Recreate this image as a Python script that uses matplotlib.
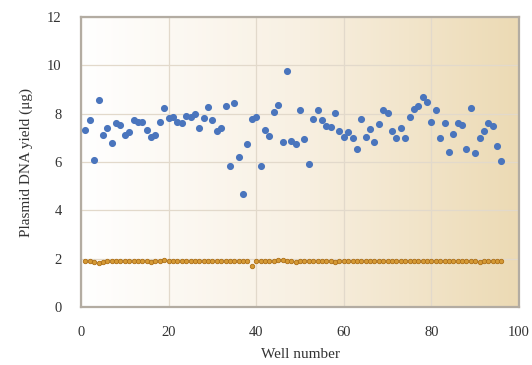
import numpy as np
import matplotlib
matplotlib.use('Agg')
import matplotlib.pyplot as plt
from matplotlib.colors import LinearSegmentedColormap

# plasmid yield per well (blue) and second series (orange)
wells = np.arange(1, 97)
yield_blue = [7.32, 7.72, 6.07, 8.56, 7.12, 7.39, 6.79, 7.61, 7.54, 7.13,
              7.24, 7.74, 7.67, 7.64, 7.34, 7.03, 7.12, 7.64, 8.25, 7.81,
              7.86, 7.67, 7.60, 7.89, 7.85, 7.97, 7.39, 7.81, 8.26, 7.72,
              7.29, 7.42, 8.32, 5.85, 8.45, 6.22, 4.66, 6.73, 7.77, 7.85,
              5.85, 7.34, 7.07, 8.08, 8.34, 6.81, 9.78, 6.85, 6.74, 8.15,
              6.95, 5.93, 7.78, 8.15, 7.72, 7.48, 7.46, 8.04, 7.28, 7.03,
              7.23, 6.99, 6.54, 7.79, 7.03, 7.35, 6.81, 7.56, 8.14, 8.04,
              7.29, 6.99, 7.42, 7.00, 7.87, 8.19, 8.30, 8.68, 8.47, 7.64,
              8.14, 6.99, 7.60, 6.43, 7.14, 7.60, 7.52, 6.52, 8.25, 6.36,
              6.98, 7.27, 7.60, 7.48, 6.67, 6.05]
yield_orange = [1.90, 1.90, 1.88, 1.84, 1.88, 1.90, 1.89, 1.90, 1.90, 1.90,
                1.91, 1.90, 1.92, 1.91, 1.90, 1.88, 1.91, 1.89, 1.96, 1.92,
                1.90, 1.91, 1.90, 1.89, 1.91, 1.92, 1.90, 1.90, 1.90, 1.91,
                1.90, 1.90, 1.91, 1.90, 1.90, 1.90, 1.90, 1.90, 1.70, 1.90,
                1.91, 1.90, 1.90, 1.89, 1.93, 1.95, 1.91, 1.90, 1.88, 1.90,
                1.90, 1.89, 1.91, 1.90, 1.90, 1.91, 1.89, 1.88, 1.90, 1.91,
                1.90, 1.90, 1.91, 1.90, 1.89, 1.92, 1.90, 1.91, 1.90, 1.91,
                1.89, 1.90, 1.91, 1.90, 1.92, 1.90, 1.89, 1.91, 1.90, 1.90,
                1.89, 1.90, 1.91, 1.92, 1.90, 1.89, 1.90, 1.91, 1.89, 1.90,
                1.88, 1.90, 1.89, 1.90, 1.91, 1.89]

xticks = [0, 20, 40, 60, 80, 100]
yticks = [0, 2, 4, 6, 8, 10, 12]

plt.rcParams['font.family'] = ['Liberation Serif', 'DejaVu Serif']

fig = plt.figure(figsize=(5.32, 3.65), dpi=100)
ax = fig.add_axes([0.1523, 0.1589, 0.8233, 0.7945])

# background gradient, white to tan
cmap = LinearSegmentedColormap.from_list('bg', ['#ffffff', '#f8f0e2', '#ecdab4'])
grad = np.linspace(0, 1, 256).reshape(1, -1)
ax.imshow(grad, extent=[0, 100, 0, 12], aspect='auto', cmap=cmap, zorder=0)

ax.grid(True, color='#e2d9cb', linewidth=0.9, zorder=1)

ax.plot(wells, yield_blue, 'o', color='#4a75bd', markersize=4.1, zorder=3)
ax.plot(wells, yield_orange, 'o', color='#d59a35', markeredgecolor='#ad6f16',
        markeredgewidth=0.6, markersize=3.2, zorder=3)

ax.set_xlim(0, 100)
ax.set_ylim(0, 12)
ax.set_xticks(xticks)
ax.set_yticks(yticks)
ax.tick_params(length=0, labelsize=10.5, labelcolor='#333333')
ax.tick_params(axis='x', pad=14)
ax.tick_params(axis='y', pad=14)

for s in ax.spines.values():
    s.set_color('#b3aca2')
    s.set_linewidth(1.6)

ax.set_xlabel('Well number', fontsize=11, color='#333333', labelpad=6)
ax.set_ylabel('Plasmid DNA yield (μg)', fontsize=11, color='#333333', labelpad=10)

fig.savefig('out.png', dpi=100)
